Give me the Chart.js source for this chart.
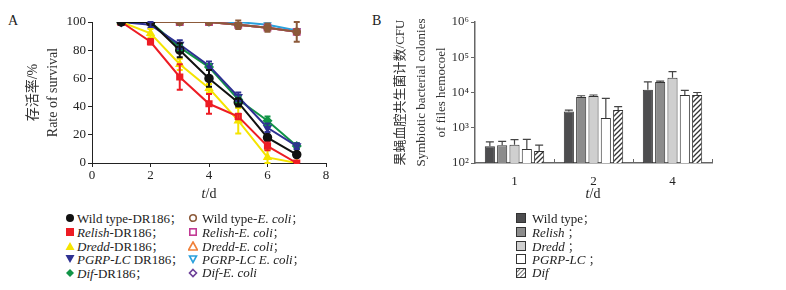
<!DOCTYPE html>
<html>
<head>
<meta charset="utf-8">
<script src="https://cdn.jsdelivr.net/npm/chart.js@4.4.1/dist/chart.umd.min.js"></script>
<style>
  body { margin: 0; background: #fff; width: 786px; height: 290px; position: relative; overflow: hidden;
         font-family: "Liberation Serif", "Noto Sans CJK SC", serif; color: #222; }
  #boxA { position: absolute; left: 0; top: 0; width: 345px; height: 200px; }
  #boxB { position: absolute; left: 390px; top: 0; width: 340px; height: 200px; }
  .lbl { position: absolute; font-size: 14px; line-height: 14px; }
  .tt { position: absolute; font-size: 14px; line-height: 14px; transform: translateX(-50%); }
  .row { position: absolute; font-size: 13px; line-height: 14px; white-space: nowrap; }
  .row svg { position: absolute; left: 0; top: 2px; }
  .row span { position: absolute; top: 0; }
  .semi { font-family: "Noto Sans CJK SC", sans-serif; font-size: 11px; }
</style>
</head>
<body>
<div class="lbl" style="left:8px;top:14px">A</div>
<div class="lbl" style="left:372px;top:14px">B</div>
<div id="boxA"><canvas id="chartA"></canvas></div>
<div id="boxB"><canvas id="chartB"></canvas></div>
<div class="tt" style="left:209px;top:187px"><i>t</i>/d</div>
<div class="tt" style="left:593px;top:187px"><i>t</i>/d</div>
<div id="legA"></div>
<div id="legB"></div>

<script>
// 图A：存活率
const days = [1, 2, 3, 4, 5, 6, 7];
const wtDR = [100, 100, 80, 60, 43, 18, 6];
const wtDRErr = [0, 0, 5, 6, 3, 2, 1];
const relDR = [100, 86, 61, 42, 33, 12, 0];
const relDRErr = [0, 2, 9, 7, 2, 3, 1];
const dreDR = [100, 92, 70, 53, 30, 4, 0];
const dreDRErr = [0, 3, 4, 3, 9, 5, 0];
const pgDR = [100, 98, 84, 69, 47, 25, 12];
const pgDRErr = [0, 2, 3, 3, 3, 3, 2];
const difDR = [100, 100, 82, 68, 45, 30, 12];
const difDRErr = [0, 0, 2, 2, 2, 3, 2];
const pgEc = [100, 100, 100, 100, 100, 98, 94];
const difEc = [100, 100, 100, 100, 98, 96, 93];
const dreEc = [100, 100, 100, 100, 98, 96, 93];
const relEc = [100, 100, 100, 100, 98, 96, 93];
const wtEc = [100, 100, 100, 100, 98, 96, 93];
const wtEcErr = [0, 0, 0, 0, 3, 3, 7];
const xTicksA = [0, 2, 4, 6, 8];
const yTicksA = [0, 20, 40, 60, 80, 100];

// 图B：共生菌计数
const dayCats = ['1', '2', '4'];
const wtCfu = [300, 2900, 12000];
const wtCfuErr = [100, 250, 8000];
const relCfu = [320, 7500, 20000];
const relCfuErr = [90, 600, 1000];
const dreCfu = [330, 8000, 26000];
const dreCfuErr = [130, 500, 13000];
const pgCfu = [250, 1900, 8500];
const pgCfuErr = [220, 4900, 3000];
const difCfu = [220, 3200, 8500];
const difCfuErr = [100, 800, 1500];
const logTicksB = [2, 3, 4, 5, 6];

const serif = '"Liberation Serif", "Noto Sans CJK SC", serif';
const sup = { 2: '²', 3: '³', 4: '⁴', 5: '⁵', 6: '⁶' };

function pts(vals) {
  return days.map((d, i) => ({ x: d, y: vals[i] }));
}

// 误差线插件
const errorBars = {
  id: 'errorBars',
  afterDatasetsDraw(chart) {
    const ctx = chart.ctx;
    const ys = chart.scales.y;
    chart.data.datasets.slice().reverse().forEach(ds => {
      if (!ds.errs) return;
      const meta = chart.getDatasetMeta(chart.data.datasets.indexOf(ds));
      meta.data.forEach((el, j) => {
        const e = ds.errs[j];
        if (!e) return;
        const raw = ds.data[j];
        const v = typeof raw === 'object' ? raw.y : raw;
        const top = ys.getPixelForValue(v + e);
        const bot = ds.errUp ? el.y : ys.getPixelForValue(Math.max(v - e, ys.min));
        const cap = ds.capW || 3;
        ctx.save();
        ctx.strokeStyle = ds.errColor || ds.borderColor;
        ctx.lineWidth = ds.errW || 2;
        ctx.beginPath();
        ctx.moveTo(el.x, top); ctx.lineTo(el.x, bot);
        ctx.moveTo(el.x - cap, top); ctx.lineTo(el.x + cap, top);
        if (!ds.errUp) { ctx.moveTo(el.x - cap, bot); ctx.lineTo(el.x + cap, bot); }
        ctx.stroke();
        ctx.restore();
      });
    });
  }
};

function lineSet(label, vals, color, style, errs, fill, r) {
  return {
    label, data: pts(vals), borderColor: color, backgroundColor: fill || color,
    pointBackgroundColor: fill || color, pointBorderColor: color,
    pointStyle: style, pointRadius: r || 4, pointBorderWidth: 1.5,
    borderWidth: 2, errs, tension: 0
  };
}

const axisFont = { family: serif, size: 13 };

// Chart.js 把第一个数据集画在最上层
new Chart(document.getElementById('chartA'), {
  type: 'line',
  data: {
    datasets: [
      lineSet('Wild type-DR186', wtDR, '#111111', 'circle', wtDRErr),
      lineSet('Relish-DR186', relDR, '#ed1c24', 'rect', relDRErr),
      lineSet('Dredd-DR186', dreDR, '#f5e400', 'triangle', dreDRErr),
      lineSet('PGRP-LC DR186', pgDR, '#2e3192', 'triangle', pgDRErr),
      lineSet('Dif-DR186', difDR, '#119447', 'rectRot', difDRErr),
      lineSet('Wild type-E. coli', wtEc, '#8c5a3a', 'circle', wtEcErr, '#8c5a3a', 3.5),
      lineSet('Relish-E. coli', relEc, '#c23a94', 'rect', null, '#c23a94', 4.5),
      lineSet('Dredd-E. coli', dreEc, '#f0803a', 'rectRot', null, null, 3),
      lineSet('Dif-E. coli', difEc, '#6c3f98', 'rectRot', null, null, 3),
      lineSet('PGRP-LC E. coli', pgEc, '#2aa0dc', 'triangle', null, null, 3.5)
    ].map(ds => {
      if (ds.label.startsWith('PGRP-LC')) ds.pointRotation = 180;
      return ds;
    })
  },
  options: {
    responsive: true, maintainAspectRatio: false, animation: false,
    layout: { padding: { left: 0, top: 22, right: 19, bottom: 0 } },
    plugins: { legend: { display: false }, tooltip: { enabled: false } },
    scales: {
      x: {
        type: 'linear', min: 0, max: 8,
        afterBuildTicks: s => { s.ticks = xTicksA.map(v => ({ value: v })); },
        afterFit: s => { s.height = 37; },
        ticks: { font: axisFont, color: '#222', padding: 1 },
        grid: { drawOnChartArea: false, tickLength: 4, color: '#222' },
        border: { color: '#222', width: 1 }
      },
      y: {
        min: 0, max: 100,
        afterBuildTicks: s => { s.ticks = yTicksA.map(v => ({ value: v })); },
        afterFit: s => { s.width = 92; },
        ticks: { font: axisFont, color: '#222', padding: 2 },
        grid: { drawOnChartArea: false, tickLength: 4, color: '#222' },
        border: { color: '#222', width: 1 },
        title: {
          display: true, text: ['存活率/%', 'Rate of survival'], color: '#333',
          font: { family: serif, size: 14, lineHeight: 1.45 }, padding: { top: 23, bottom: 0 }
        }
      }
    }
  },
  plugins: [errorBars]
});

// 斜线填充
function hatch() {
  const c = document.createElement('canvas');
  c.width = 5; c.height = 5;
  const g = c.getContext('2d');
  g.fillStyle = '#fff'; g.fillRect(0, 0, 5, 5);
  g.strokeStyle = '#333'; g.lineWidth = 1.3;
  g.beginPath();
  g.moveTo(-1, 6); g.lineTo(6, -1);
  g.moveTo(-1, 1); g.lineTo(1, -1);
  g.moveTo(4, 6); g.lineTo(6, 4);
  g.stroke();
  return g.createPattern(c, 'repeat');
}

const innerTicks = {
  id: 'innerTicks',
  afterDraw(chart) {
    const xs = chart.scales.x, ctx = chart.ctx;
    const half = (xs.getPixelForValue(1) - xs.getPixelForValue(0)) / 2;
    ctx.save();
    ctx.strokeStyle = '#666'; ctx.lineWidth = 1;
    for (let i = 1; i <= dayCats.length; i++) {
      const px = Math.round(xs.getPixelForValue(i - 1) + half) + 0.5;
      ctx.beginPath(); ctx.moveTo(px, xs.top); ctx.lineTo(px, xs.top - 4); ctx.stroke();
    }
    ctx.restore();
  }
};

function barSet(label, vals, errs, fill) {
  return {
    label, data: vals, backgroundColor: fill, borderColor: '#333', borderWidth: 1,
    errs, errUp: true, errColor: '#444', errW: 1.2, capW: 4,
    categoryPercentage: 0.78, barPercentage: 0.82
  };
}

const barFills = ['#4d4d4f', '#8c8c8c', '#cfcfcf', '#ffffff', hatch()];

new Chart(document.getElementById('chartB'), {
  type: 'bar',
  data: {
    labels: dayCats,
    datasets: [
      barSet('Wild type', wtCfu, wtCfuErr, barFills[0]),
      barSet('Relish', relCfu, relCfuErr, barFills[1]),
      barSet('Dredd', dreCfu, dreCfuErr, barFills[2]),
      barSet('PGRP-LC', pgCfu, pgCfuErr, barFills[3]),
      barSet('Dif', difCfu, difCfuErr, barFills[4])
    ]
  },
  options: {
    responsive: true, maintainAspectRatio: false, animation: false,
    layout: { padding: { left: 0, top: 22, right: 18, bottom: 0 } },
    plugins: { legend: { display: false }, tooltip: { enabled: false } },
    scales: {
      x: {
        afterFit: s => { s.height = 37; },
        ticks: { font: axisFont, color: '#222', padding: 3 },
        grid: { display: false },
        border: { color: '#666', width: 1.5 }
      },
      y: {
        type: 'logarithmic', min: 100, max: 1e6,
        afterBuildTicks: s => { s.ticks = logTicksB.map(e => ({ value: Math.pow(10, e) })); },
        afterFit: s => { s.width = 85; },
        ticks: {
          font: axisFont, color: '#333', padding: 2,
          callback: v => '10' + sup[Math.round(Math.log10(v))]
        },
        grid: { drawOnChartArea: false, tickLength: 4, color: '#666' },
        border: { color: '#666', width: 1.5 },
        title: {
          display: true,
          text: ['果蝇血腔共生菌计数/CFU', 'Symbiotic bacterial colonies', 'of files hemocoel'],
          color: '#333', font: { family: serif, size: 13, lineHeight: 1.6 }, padding: { top: 0, bottom: 0 }
        }
      }
    }
  },
  plugins: [errorBars, innerTicks]
});

// 图例
const legNamesA1 = ['Wild type-DR186；', '<i>Relish</i>-DR186；', '<i>Dredd</i>-DR186；', '<i>PGRP-LC</i> DR186；', '<i>Dif</i>-DR186；'];
const legNamesA2 = ['Wild type-<i>E. coli</i>；', '<i>Relish</i>-<i>E. coli</i>；', '<i>Dredd</i>-<i>E. coli</i>；', '<i>PGRP-LC E. coli</i>；', '<i>Dif</i>-<i>E. coli</i>'];
const legNamesB = ['Wild type；', '<i>Relish</i> ；', '<i>Dredd</i> ；', '<i>PGRP-LC</i> ；', '<i>Dif</i>'];

function marker(shape, color, open) {
  const f = open ? 'none' : color, sw = open ? 1.6 : 0;
  let s = '';
  if (shape === 'circle') s = `<circle cx="5" cy="5" r="${open ? 3.3 : 4}" fill="${f}" stroke="${color}" stroke-width="${sw}"/>`;
  if (shape === 'rect') s = `<rect x="${open ? 1.8 : 1}" y="${open ? 1.8 : 1}" width="${open ? 6.4 : 8}" height="${open ? 6.4 : 8}" fill="${f}" stroke="${color}" stroke-width="${sw}"/>`;
  if (shape === 'tri') s = `<polygon points="5,1 9.5,9 0.5,9" fill="${f}" stroke="${color}" stroke-width="${sw}"/>`;
  if (shape === 'down') s = open ? `<polygon points="1.5,2 8.5,2 5,8.5" fill="none" stroke="${color}" stroke-width="1.6"/>` : `<polygon points="0.5,1 9.5,1 5,9" fill="${f}"/>`;
  if (shape === 'dia') s = open ? `<polygon points="5,1.5 8.5,5 5,8.5 1.5,5" fill="none" stroke="${color}" stroke-width="1.6"/>` : `<polygon points="5,1 9,5 5,9 1,5" fill="${f}"/>`;
  return `<svg width="10" height="10" viewBox="0 0 10 10">${s}</svg>`;
}

function fixSemi(t) { return t.replace(/；/g, '<span class="semi" style="position:static">；</span>'); }

const shapesA = ['circle', 'rect', 'tri', 'down', 'dia'];
const colorsA1 = ['#111111', '#ed1c24', '#f5e400', '#2e3192', '#119447'];
const colorsA2 = ['#8c5a3a', '#c23a94', '#f0803a', '#2aa0dc', '#6c3f98'];
let html = '';
legNamesA1.forEach((n, i) => {
  const top = 211 + i * 13.8;
  html += `<div class="row" style="left:65px;top:${top}px">${marker(shapesA[i], colorsA1[i], false)}<span style="left:12px">${fixSemi(n)}</span></div>`;
  html += `<div class="row" style="left:188px;top:${top}px">${marker(shapesA[i], colorsA2[i], true)}<span style="left:14px">${fixSemi(legNamesA2[i])}</span></div>`;
});
document.getElementById('legA').innerHTML = html;

html = '';
legNamesB.forEach((n, i) => {
  const top = 211 + i * 13.8;
  const sw = i === 4
    ? `<svg width="10" height="10"><defs><pattern id="h" width="3" height="3" patternUnits="userSpaceOnUse" patternTransform="rotate(45)"><rect width="3" height="3" fill="#fff"/><line x1="0" y1="0" x2="0" y2="3" stroke="#333" stroke-width="1.4"/></pattern></defs><rect x="0.5" y="0.5" width="9" height="9" fill="url(#h)" stroke="#333"/></svg>`
    : `<svg width="10" height="10"><rect x="0.5" y="0.5" width="9" height="9" fill="${barFills[i]}" stroke="#333"/></svg>`;
  html += `<div class="row" style="left:516px;top:${top}px">${sw}<span style="left:16px">${fixSemi(n)}</span></div>`;
});
document.getElementById('legB').innerHTML = html;
</script>
</body>
</html>
